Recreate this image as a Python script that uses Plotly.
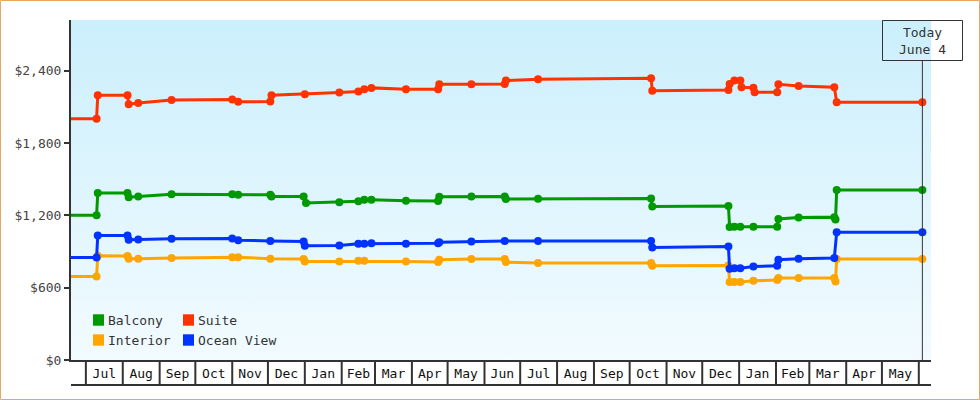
import base64
import pandas as pd
import plotly.graph_objects as go

# ---------------- data ----------------
balcony_dates = ["2021-06-18", "2021-07-10", "2021-07-11", "2021-08-05", "2021-08-06", "2021-08-14",
                 "2021-09-11", "2021-11-01", "2021-11-06", "2021-12-03", "2021-12-04", "2021-12-31",
                 "2022-01-02", "2022-01-30", "2022-02-15", "2022-02-20", "2022-02-26", "2022-03-27",
                 "2022-04-23", "2022-04-24", "2022-05-21", "2022-06-18", "2022-06-19", "2022-07-16",
                 "2022-10-19", "2022-10-20", "2022-12-23", "2022-12-24", "2022-12-28", "2023-01-02",
                 "2023-01-13", "2023-02-02", "2023-02-03", "2023-02-20", "2023-03-22", "2023-03-23",
                 "2023-03-24", "2023-06-04"]
balcony_prices = [1200, 1200, 1385, 1385, 1350, 1357,
                  1374, 1374, 1371, 1371, 1357, 1357,
                  1302, 1308, 1316, 1329, 1329, 1321,
                  1318, 1354, 1357, 1357, 1335, 1337,
                  1340, 1274, 1277, 1103, 1105, 1105,
                  1105, 1105, 1170, 1182, 1185, 1165,
                  1410, 1410]

suite_dates = ["2021-06-18", "2021-07-10", "2021-07-11", "2021-08-05", "2021-08-06", "2021-08-14",
               "2021-09-11", "2021-11-01", "2021-11-06", "2021-12-03", "2021-12-04", "2022-01-01",
               "2022-01-30", "2022-02-15", "2022-02-20", "2022-02-26", "2022-03-27", "2022-04-23",
               "2022-04-24", "2022-05-21", "2022-06-18", "2022-06-19", "2022-07-16", "2022-10-19",
               "2022-10-20", "2022-12-23", "2022-12-24", "2022-12-28", "2023-01-02", "2023-01-03",
               "2023-01-13", "2023-01-14", "2023-02-02", "2023-02-03", "2023-02-20", "2023-03-22",
               "2023-03-24", "2023-06-04"]
suite_prices = [2000, 2000, 2195, 2195, 2122, 2132,
                2157, 2160, 2141, 2144, 2196, 2204,
                2218, 2226, 2246, 2257, 2246, 2246,
                2287, 2287, 2290, 2318, 2329, 2337,
                2234, 2240, 2290, 2318, 2318, 2262,
                2259, 2221, 2221, 2287, 2273, 2262,
                2138, 2138]

interior_dates = ["2021-06-18", "2021-07-10", "2021-07-11", "2021-08-05", "2021-08-06", "2021-08-14",
                  "2021-09-11", "2021-11-01", "2021-11-06", "2021-12-03", "2021-12-31", "2022-01-01",
                  "2022-01-30", "2022-02-15", "2022-02-20", "2022-03-27", "2022-04-23", "2022-04-24",
                  "2022-05-21", "2022-06-18", "2022-06-19", "2022-07-16", "2022-10-19", "2022-10-20",
                  "2022-12-23", "2022-12-24", "2022-12-28", "2023-01-02", "2023-01-13", "2023-02-02",
                  "2023-02-03", "2023-02-20", "2023-03-22", "2023-03-23", "2023-03-24", "2023-06-04"]
interior_prices = [693, 693, 864, 862, 840, 839,
                   845, 853, 853, 839, 837, 817,
                   817, 823, 823, 817, 812, 831,
                   837, 837, 812, 804, 804, 781,
                   784, 646, 646, 646, 657, 663,
                   680, 680, 680, 652, 837, 837]

ocean_dates = ["2021-06-18", "2021-07-10", "2021-07-11", "2021-08-05", "2021-08-06", "2021-08-14",
               "2021-09-11", "2021-11-01", "2021-11-06", "2021-12-03", "2021-12-31", "2022-01-01",
               "2022-01-30", "2022-02-15", "2022-02-20", "2022-02-26", "2022-03-27", "2022-04-23",
               "2022-04-24", "2022-05-21", "2022-06-18", "2022-07-16", "2022-10-19", "2022-10-20",
               "2022-12-23", "2022-12-24", "2022-12-28", "2023-01-02", "2023-01-13", "2023-02-02",
               "2023-02-03", "2023-02-20", "2023-03-22", "2023-03-24", "2023-06-04"]
ocean_prices = [850, 850, 1032, 1032, 997, 999,
                1005, 1008, 994, 988, 983, 947,
                949, 964, 964, 969, 964, 969,
                976, 983, 988, 988, 988, 933,
                941, 756, 762, 762, 775, 781,
                831, 839, 845, 1060, 1060]

series_names = ["Balcony", "Suite", "Interior", "Ocean View"]
series_colors = ["#009900", "#FF3300", "#FFA500", "#0033FF"]
series_dates = [balcony_dates, suite_dates, interior_dates, ocean_dates]
series_prices = [balcony_prices, suite_prices, interior_prices, ocean_prices]

y_ticks = [0, 600, 1200, 1800, 2400]
y_tick_labels = ["$0", "$600", "$1,200", "$1,800", "$2,400"]
today_date = "2023-06-04"
today_label = "Today<br>June 4"
x_range = ["2021-06-18 12:00", "2023-06-11 06:00"]
month_starts = pd.date_range("2021-07-01", "2023-06-01", freq="MS")

# ---------------- layout geometry ----------------
W, H = 980, 400
ML, MR, MT, MB = 71, 49, 20, 40
PW, PH = W - ML - MR, H - MT - MB
FONT = "DejaVu Sans Mono"
AX = "#333333"


def px_x(p):
    return (p - ML) / PW


def px_y(p):
    return (H - MB - p) / PH


fig = go.Figure()
for name, color, d, v in zip(series_names, series_colors, series_dates, series_prices):
    fig.add_trace(go.Scatter(
        x=d, y=v, name=name, mode="lines+markers",
        line=dict(color=color, width=3),
        marker=dict(color=color, size=8, symbol="circle"),
        cliponaxis=False, showlegend=False,
    ))

# month tick labels centred inside each full month box (Jul .. May)
mid_vals = []
mid_text = []
for i in range(len(month_starts) - 1):
    a, b = month_starts[i], month_starts[i + 1]
    mid_vals.append(a + (b - a) / 2)
    mid_text.append(a.strftime("%b"))

shapes = []
box_bottom = px_y(385)
for ms in month_starts:
    shapes.append(dict(type="line", xref="x", yref="paper", x0=ms, x1=ms, y0=0, y1=box_bottom,
                       line=dict(color=AX, width=2)))
shapes.append(dict(type="line", xref="paper", yref="paper", x0=0, x1=1, y0=box_bottom, y1=box_bottom,
                   line=dict(color=AX, width=2)))
# today line and box
shapes.append(dict(type="line", xref="x", yref="paper", x0=today_date, x1=today_date,
                   y0=0, y1=px_y(60.5), line=dict(color=AX, width=1)))
shapes.append(dict(type="rect", xref="paper", yref="paper",
                   x0=px_x(882.5), x1=px_x(962.5), y0=px_y(60.5), y1=px_y(20.5),
                   line=dict(color=AX, width=1), fillcolor="rgba(0,0,0,0)"))
# outer border
shapes.append(dict(type="rect", xref="paper", yref="paper",
                   x0=px_x(0.5), x1=px_x(W - 0.5), y0=px_y(H - 0.5), y1=px_y(0.5),
                   line=dict(color="#E8A860", width=1)))

annotations = [dict(xref="paper", yref="paper", x=px_x(922.5), y=px_y(41),
                    yanchor="middle", xanchor="center",
                    text=today_label, showarrow=False, align="center",
                    font=dict(family=FONT, size=13, color="#333333"))]

# legend (two columns)
legend_pos = [(93, 320), (183, 320), (93, 340), (183, 340)]
for (lx, ly), name, color in zip(legend_pos, series_names, series_colors):
    shapes.append(dict(type="rect", xref="paper", yref="paper",
                       x0=px_x(lx), x1=px_x(lx + 11), y0=px_y(ly + 5.7), y1=px_y(ly - 5.7),
                       fillcolor=color, line=dict(width=0)))
    annotations.append(dict(xref="paper", yref="paper", x=px_x(lx + 13), y=px_y(ly),
                            xanchor="left", yanchor="middle", text=name, showarrow=False,
                            font=dict(family=FONT, size=13, color="#333333")))

svg = ('<svg xmlns="http://www.w3.org/2000/svg" width="860" height="340" viewBox="0 0 860 340" '
       'preserveAspectRatio="none"><defs><linearGradient id="g" x1="0" y1="0" x2="0" y2="1">'
       '<stop offset="0" stop-color="#CBEFFC"/><stop offset="1" stop-color="#F2FBFF"/>'
       '</linearGradient></defs><rect width="860" height="340" fill="url(#g)"/></svg>')
bg_src = "data:image/svg+xml;base64," + base64.b64encode(svg.encode()).decode()

fig.update_layout(
    width=W, height=H,
    margin=dict(l=ML, r=MR, t=MT, b=MB, pad=0),
    paper_bgcolor="white", plot_bgcolor="rgba(0,0,0,0)",
    font=dict(family=FONT, size=13, color="#333333"),
    showlegend=False,
    images=[dict(source=bg_src, xref="paper", yref="paper", x=0, y=1, sizex=1, sizey=1,
                 sizing="stretch", layer="below")],
    shapes=shapes, annotations=annotations,
    xaxis=dict(type="date", range=x_range, showgrid=False, zeroline=False,
               showline=True, linecolor=AX, linewidth=2,
               tickvals=mid_vals, ticktext=mid_text, ticks="",
               tickfont=dict(family=FONT, size=13, color="#111111"),
               fixedrange=True),
    yaxis=dict(range=[0, 2820], showgrid=False, zeroline=False,
               showline=True, linecolor=AX, linewidth=2, layer="below traces",
               tickvals=y_ticks, ticktext=y_tick_labels,
               ticks="outside", ticklen=5, tickwidth=2, tickcolor=AX,
               tickfont=dict(family=FONT, size=13, color="#444444"),
               fixedrange=True),
)

fig.write_html("out.html")
